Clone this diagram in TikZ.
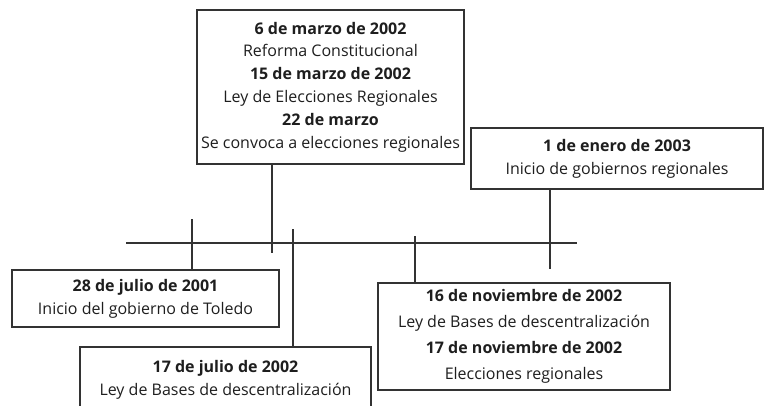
\documentclass[tikz,border=0pt]{standalone}
\usepackage{fontspec}
\setmainfont{Open Sans}
\definecolor{linegray}{RGB}{51,51,51}
\definecolor{textgray}{RGB}{30,30,30}

\begin{document}
\begin{tikzpicture}[x=1pt, y=-1pt,
  evento/.style={draw=linegray, line width=1.3pt, align=center, inner sep=0pt,
    text=textgray, font=\fontsize{16}{22.8}\selectfont},
  marca/.style={draw=linegray, line width=1.3pt}]
\useasboundingbox (0,0) rectangle (768,406);
\clip (0,0) rectangle (768,406);

% Event boxes
\node[evento, minimum width=267pt, minimum height=154pt] (marzo02) at (330.5,87)
  {\textbf{6 de marzo de 2002}\\Reforma Constitucional\\\textbf{15 de marzo de 2002}\\
   Ley de Elecciones Regionales\\\textbf{22 de marzo}\\Se convoca a elecciones regionales};
\node[evento, minimum width=292pt, minimum height=61pt] (enero03) at (617,158.5)
  {\textbf{1 de enero de 2003}\\Inicio de gobiernos regionales};
\node[evento, minimum width=267pt, minimum height=57pt] (julio01) at (145.5,298.5)
  {\textbf{28 de julio de 2001}\\Inicio del gobierno de Toledo};
\node[evento, minimum width=291pt, minimum height=66pt] (julio02) at (225.5,380)
  {\textbf{17 de julio de 2002}\\Ley de Bases de descentralización};
\node[evento, minimum width=292pt, minimum height=107pt,
  font=\fontsize{16}{26}\selectfont] (nov02) at (524,336.5)
  {\textbf{16 de noviembre de 2002}\\Ley de Bases de descentralización\\
   \textbf{17 de noviembre de 2002}\\Elecciones regionales};

% Timeline
\coordinate (inicio) at (126,243);
\coordinate (fin) at (577,243);
\draw[marca] (inicio) -- (fin);

% Ticks
\coordinate (m1) at (192,219);
\coordinate (m2) at (272,253);
\coordinate (m3) at (293,229);
\coordinate (m4) at (415,236);
\coordinate (m5) at (550,269);
\draw[marca] (m1) -- (m1 |- julio01.north);
\draw[marca] (m2 |- marzo02.south) -- (m2);
\draw[marca] (m3) -- (m3 |- julio02.north);
\draw[marca] (m4) -- (m4 |- nov02.north);
\draw[marca] (m5 |- enero03.south) -- (m5);
\end{tikzpicture}
\end{document}
